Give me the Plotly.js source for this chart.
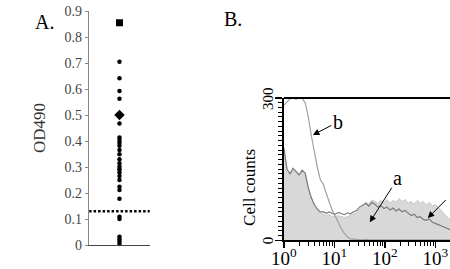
<!DOCTYPE html>
<html><head><meta charset="utf-8">
<script src="https://cdn.plot.ly/plotly-3.0.1.min.js"></script>
<style>html,body{margin:0;padding:0;overflow:hidden;background:#fff}</style>
</head><body><div id="chart" style="width:450px;height:269px"></div>
<script>
// Panel A: OD490 values
const odDots = [0.705, 0.641, 0.592, 0.563, 0.467, 0.414, 0.404, 0.393, 0.382, 0.365, 0.349,
  0.330, 0.314, 0.301, 0.291, 0.280, 0.265, 0.250, 0.224, 0.212, 0.178, 0.109, 0.100,
  0.032, 0.022, 0.013, 0.004];
const odSquare = [0.855];
const odDiamond = [0.50];
const cutoff = 0.13;
const odTicks = [0, 0.1, 0.2, 0.3, 0.4, 0.5, 0.6, 0.7, 0.8, 0.9];

// Panel B: flow cytometry histograms (fluorescence channel, cell counts)
const fluor = [1.00, 1.15, 1.32, 1.51, 1.74, 2.00, 2.29, 2.63, 3.02, 3.47, 3.98, 4.57, 5.25, 6.03,
  6.92, 7.94, 9.12, 10.5, 12.0, 13.8, 15.8, 18.2, 20.9, 24.0, 27.5, 31.6, 36.3, 41.7, 47.9, 55.0,
  63.1, 72.4, 83.2, 95.5, 110, 126, 145, 166, 191, 219, 251, 288, 331, 380, 437, 501, 575, 661,
  759, 871, 1000, 1148, 1318, 1514, 1738, 1995];
const countsB = [285, 292, 298, 300, 297, 300, 299, 290, 262, 222, 185, 155, 128, 118, 98, 80, 62,
  50, 36, 24, 14, 7, 3, 2, 2, 1, 1, 2, 1, 1, 1, 2, 1, 1, 1, 1, 2, 1, 1, 1, 1, 1, 1, 2, 1, 1, 1, 1,
  1, 1, 1, 1, 1, 1, 1, 1];
const countsA = [190, 145, 138, 148, 142, 135, 145, 138, 110, 88, 74, 64, 57, 55, 52, 54, 50, 50,
  52, 50, 48, 50, 52, 55, 58, 65, 72, 80, 76, 85, 82, 78, 84, 80, 86, 78, 84, 80, 88, 82, 86, 78,
  82, 76, 84, 78, 82, 74, 80, 72, 76, 68, 62, 55, 48, 42];
const countsC = [195, 150, 140, 152, 145, 138, 148, 142, 112, 90, 76, 66, 60, 60, 57, 60, 56, 55,
  59, 57, 54, 58, 56, 60, 63, 70, 74, 78, 72, 80, 76, 70, 73, 67, 70, 64, 68, 62, 66, 60, 63, 57,
  52, 55, 48, 50, 44, 42, 45, 38, 36, 33, 30, 27, 24, 22];
const decadeVals = [1, 10, 100, 1000];
const decadeText = ['10<sup>0</sup>', '10<sup>1</sup>', '10<sup>2</sup>', '10<sup>3</sup>'];
const countTicks = [0, 300];

const serif = "Liberation Serif, Times New Roman, serif";
const colA = odDots.map(() => 1);
const minorLog = [];
for (let d = 1; d <= 1000; d *= 10) for (let k = 2; k <= 9; k++) minorLog.push(k * d);

const traces = [
  {x: colA, y: odDots, type: 'scatter', mode: 'markers', xaxis: 'x', yaxis: 'y',
   marker: {color: '#000', size: 4.5, symbol: 'circle'}, cliponaxis: false},
  {x: [1], y: odSquare, type: 'scatter', mode: 'markers', xaxis: 'x', yaxis: 'y',
   marker: {color: '#000', size: 7, symbol: 'square'}},
  {x: [1], y: odDiamond, type: 'scatter', mode: 'markers', xaxis: 'x', yaxis: 'y',
   marker: {color: '#000', size: 8, symbol: 'diamond'}},
  {x: [0, 2], y: [cutoff, cutoff], type: 'scatter', mode: 'lines', xaxis: 'x', yaxis: 'y',
   line: {color: '#000', width: 2.5, dash: '2.5px,2px'}, cliponaxis: false},
  {x: fluor, y: countsA, type: 'scatter', mode: 'lines', xaxis: 'x2', yaxis: 'y2',
   fill: 'tozeroy', fillcolor: '#d8d8d8', line: {color: '#c6c6c6', width: 1}},
  {x: fluor, y: countsB, type: 'scatter', mode: 'lines', xaxis: 'x2', yaxis: 'y2',
   line: {color: '#a0a0a0', width: 1.2}},
  {x: fluor, y: countsC, type: 'scatter', mode: 'lines', xaxis: 'x2', yaxis: 'y2',
   line: {color: '#7a7a7a', width: 1.2}}
];

const annotations = [
  {text: 'A.', xref: 'paper', yref: 'paper', x: 0.098, y: 0.918, xanchor: 'center', yanchor: 'middle',
   showarrow: false, font: {family: serif, size: 20, color: '#000'}},
  {text: 'B.', xref: 'paper', yref: 'paper', x: 0.518, y: 0.929, xanchor: 'center', yanchor: 'middle',
   showarrow: false, font: {family: serif, size: 20, color: '#000'}},
  {text: 'b', xref: 'x2', yref: 'y2', x: 0.574, y: 222, ax: 25, ay: -13,
   showarrow: true, arrowhead: 2, arrowsize: 1.3, arrowwidth: 1, arrowcolor: '#000',
   font: {family: serif, size: 20, color: '#000'}},
  {text: 'a', xref: 'x2', yref: 'y2', x: 1.70, y: 38, ax: 28, ay: -44,
   showarrow: true, arrowhead: 2, arrowsize: 1.3, arrowwidth: 1, arrowcolor: '#000',
   font: {family: serif, size: 20, color: '#000'}},
  {text: ' ', xref: 'x2', yref: 'y2', x: 2.85, y: 47, ax: 22, ay: -22,
   showarrow: true, arrowhead: 2, arrowsize: 1.3, arrowwidth: 1, arrowcolor: '#000',
   font: {family: serif, size: 20, color: '#000'}},
  // cell-count axis title
  {text: 'Cell counts', xref: 'x2 domain', yref: 'y2 domain', x: 0, y: 0.375, xshift: -34,
   xanchor: 'center', yanchor: 'middle', textangle: -90, showarrow: false,
   font: {family: serif, size: 17, color: '#000'}}
];
// rotated tick labels of the cell-count axis
countTicks.forEach(v => annotations.push({
  text: String(v), xref: 'x2 domain', yref: 'y2', x: 0, y: v, xshift: -16,
  xanchor: 'center', yanchor: 'middle', textangle: -90, showarrow: false,
  font: {family: serif, size: 15, color: '#000'}
}));

const layout = {
  width: 450, height: 269,
  margin: {l: 0, r: 0, t: 0, b: 0},
  paper_bgcolor: '#fff', plot_bgcolor: 'rgba(0,0,0,0)',
  showlegend: false,
  font: {family: serif, color: '#000'},
  xaxis: {domain: [0.198, 0.333], range: [0, 2], showline: true, linecolor: '#444', linewidth: 1.2,
          showgrid: false, zeroline: false, showticklabels: false, ticks: '', anchor: 'y', fixedrange: true},
  yaxis: {domain: [0.0892, 0.959], range: [0, 0.9], showline: true, linecolor: '#888', linewidth: 1.2,
          showgrid: false, zeroline: false, tickmode: 'array', tickvals: odTicks,
          ticks: 'outside', ticklen: 3, tickcolor: '#888',
          tickfont: {family: serif, size: 14, color: '#444'},
          title: {text: 'OD490', font: {family: serif, size: 17, color: '#333'}},
          anchor: 'x'},
  xaxis2: {domain: [0.631, 1], type: 'log', range: [0, 3.29], anchor: 'y2',
           showline: true, linecolor: '#000', linewidth: 2, showgrid: false, zeroline: false,
           tickmode: 'array', tickvals: decadeVals, ticktext: decadeText,
           ticks: 'outside', ticklen: 6, tickwidth: 1.5, tickcolor: '#000', ticklabelstandoff: -6,
           tickfont: {family: serif, size: 19, color: '#000'},
           minor: {tickmode: 'array', tickvals: minorLog, ticks: 'outside', ticklen: 4, tickwidth: 1, tickcolor: '#000', showgrid: false}},
  yaxis2: {domain: [0.1067, 0.6357], range: [0, 300], anchor: 'x2',
           showline: true, linecolor: '#000', linewidth: 2, showgrid: false, zeroline: false,
           tickmode: 'array', tickvals: countTicks, showticklabels: false,
           ticks: 'outside', ticklen: 7, tickwidth: 1.5, tickcolor: '#000',
           minor: {dtick: 10, tick0: 0, ticks: 'outside', ticklen: 4, tickwidth: 1, tickcolor: '#000', showgrid: false}},
  shapes: [
    {type: 'line', xref: 'x2 domain', yref: 'y2 domain', x0: 0, x1: 1, y0: 1, y1: 1,
     line: {color: '#000', width: 2}}
  ],
  annotations: annotations
};

Plotly.newPlot('chart', traces, layout, {staticPlot: true, displayModeBar: false});
</script></body></html>
